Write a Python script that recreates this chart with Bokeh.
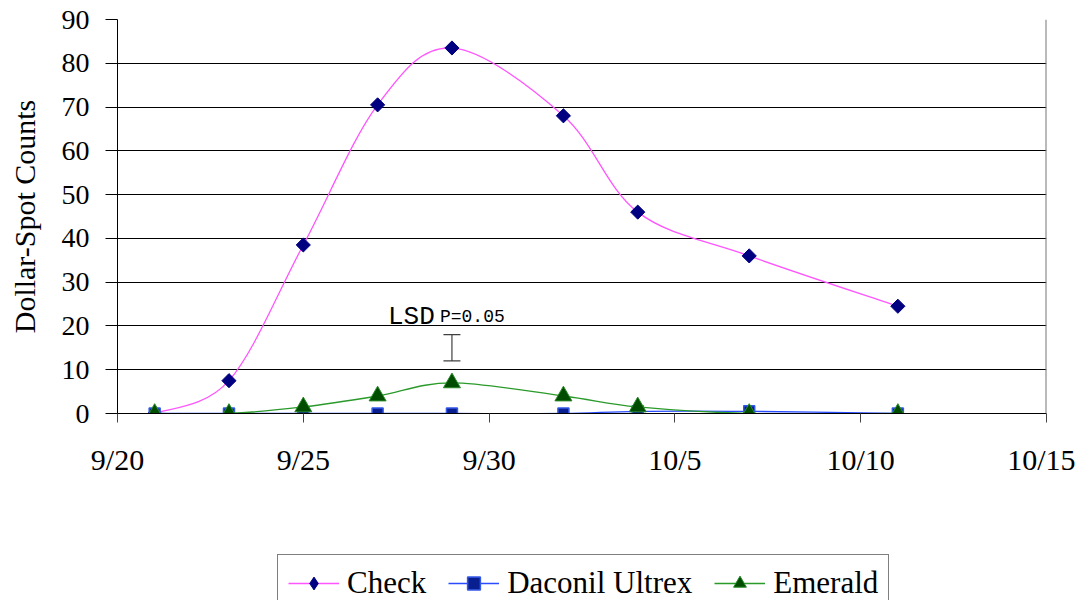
from datetime import date
from bokeh.plotting import figure
from bokeh.layouts import column
from bokeh.models import (Range1d, FixedTicker, Legend, LegendItem, Label, Whisker,
                          ColumnDataSource, Span, TeeHead)
from bokeh.embed import file_html
from bokeh.resources import INLINE

# ---------------- data ----------------
dates = ["9/21", "9/23", "9/25", "9/27", "9/29", "10/2", "10/4", "10/7", "10/11"]
check = [0, 7.5, 38.5, 70.5, 83.5, 68, 46, 36, 24.5]
daconil = [0, 0, 0, 0, 0, 0, 0.5, 0.5, 0]
emerald = [0, 0, 1.5, 4, 7, 4, 1.5, 0, 0]
tick_labels = ["9/20", "9/25", "9/30", "10/5", "10/10", "10/15"]
lsd_date = "9/29"
lsd_low, lsd_high = 12, 18
y_ticks = [0, 10, 20, 30, 40, 50, 60, 70, 80, 90]

ORIGIN = date(2000, 9, 20)


def day(s):
    m, d = s.split("/")
    return (date(2000, int(m), int(d)) - ORIGIN).days


xs = [day(d) for d in dates]
tick_x = [day(t) for t in tick_labels]

SERIF = "Liberation Serif"
MONO = "Liberation Mono"

W = 1075
p = figure(width=W, height=488, output_backend="svg", toolbar_location=None,
           x_range=Range1d(tick_x[0], tick_x[-1]), y_range=Range1d(y_ticks[0], y_ticks[-1]),
           min_border_left=117, min_border_right=W - 1046, min_border_top=19, min_border_bottom=75)
p.outline_line_color = None
p.background_fill_color = "white"
p.border_fill_color = "white"

# axes
p.xgrid.grid_line_color = None
p.ygrid.grid_line_color = "black"
p.ygrid.grid_line_width = 1
p.ygrid.ticker = FixedTicker(ticks=y_ticks)

p.yaxis.ticker = FixedTicker(ticks=y_ticks)
p.yaxis.major_tick_out = 12
p.yaxis.major_tick_in = 0
p.yaxis.minor_tick_line_color = None
p.yaxis.axis_line_color = "black"
p.yaxis.major_tick_line_color = "black"
p.yaxis.major_label_text_font = SERIF
p.yaxis.major_label_text_font_size = "28px"
p.yaxis.major_label_text_color = "black"
p.yaxis.major_label_standoff = 16
p.yaxis.axis_label = "Dollar-Spot Counts"
p.yaxis.axis_label_text_font = SERIF
p.yaxis.axis_label_text_font_size = "30px"
p.yaxis.axis_label_text_font_style = "normal"
p.yaxis.axis_label_text_color = "black"
p.yaxis.axis_label_standoff = 18

p.xaxis.ticker = FixedTicker(ticks=tick_x)
p.xaxis.major_label_overrides = {t: l for t, l in zip(tick_x, tick_labels)}
p.xaxis.major_tick_out = 9
p.xaxis.major_tick_in = 0
p.xaxis.minor_tick_line_color = None
p.xaxis.axis_line_color = "black"
p.xaxis.major_tick_line_color = "#444444"
p.xaxis.major_label_text_font = SERIF
p.xaxis.major_label_text_font_size = "30px"
p.xaxis.major_label_text_color = "black"
p.xaxis.major_label_standoff = 20

p.add_layout(Span(location=tick_x[-1], dimension="height", line_color="#777777", line_width=2))


# smoothed (Excel-like) curve drawn with bezier glyphs
def bez(xv, yv):
    n = len(xv)
    x0, y0, x1, y1, cx0, cy0, cx1, cy1 = [], [], [], [], [], [], [], []
    for i in range(n - 1):
        pi = max(i - 1, 0)
        ni = min(i + 2, n - 1)
        x0.append(xv[i]); y0.append(yv[i])
        x1.append(xv[i + 1]); y1.append(yv[i + 1])
        cx0.append(xv[i] + (xv[i + 1] - xv[pi]) / 6.0)
        cy0.append(yv[i] + (yv[i + 1] - yv[pi]) / 6.0)
        cx1.append(xv[i + 1] - (xv[ni] - xv[i]) / 6.0)
        cy1.append(yv[i + 1] - (yv[ni] - yv[i]) / 6.0)
    return dict(x0=x0, y0=y0, x1=x1, y1=y1, cx0=cx0, cy0=cy0, cx1=cx1, cy1=cy1)


series = [
    ("Check", check, "#ff55ff",
     dict(marker="square", angle=0.785398, size=10, fill_color="#000080", line_color="#000080"),
     dict(marker="diamond", fill_color="#000080", line_color="#000080")),
    ("Daconil Ultrex", daconil, "#2a4cff",
     dict(marker="square", size=11, fill_color="#0a1f8f", line_color="#3358e8", line_width=1.5),
     dict(marker="square", fill_color="#0a1f8f", line_color="#3358e8", line_width=1.5)),
    ("Emerald", emerald, "#2a9a2a",
     dict(marker="triangle", size=17, fill_color="#004d00", line_color="#2a8a2a"),
     dict(marker="triangle", fill_color="#004d00", line_color="#2a8a2a")),
]

# legend-only figure below the chart
p2 = figure(width=W, height=112, output_backend="svg", toolbar_location=None,
            x_axis_location=None, y_axis_location=None,
            x_range=Range1d(0, 1), y_range=Range1d(0, 1),
            min_border_left=0, min_border_right=0, min_border_top=0, min_border_bottom=0)
p2.outline_line_color = None
p2.grid.grid_line_color = None
p2.border_fill_color = "white"

items = []
for name, vals, col, mk, lmk in series:
    p.bezier(source=ColumnDataSource(bez(xs, vals)), x0="x0", y0="y0", x1="x1", y1="y1",
             cx0="cx0", cy0="cy0", cx1="cx1", cy1="cy1", line_color=col, line_width=1.3)
    p.scatter(x=xs, y=vals, **mk)
    # off-range stand-ins so that the legend draws its samples
    leg_line = p2.line(x=[5, 6], y=[5, 6], line_color=col, line_width=1.5)
    leg_mk = p2.scatter(x=[5], y=[5], size=12, **lmk)
    items.append(LegendItem(label=name, renderers=[leg_line, leg_mk]))

# LSD bar
lsd_x = day(lsd_date)
p.add_layout(Whisker(source=ColumnDataSource(dict(base=[lsd_x], lower=[lsd_low], upper=[lsd_high])),
                     base="base", lower="lower", upper="upper", dimension="height",
                     line_color="#404040", line_width=1.2,
                     upper_head=TeeHead(size=17, line_color="#404040", line_width=1.2),
                     lower_head=TeeHead(size=17, line_color="#404040", line_width=1.2)))
p.add_layout(Label(x=lsd_x, y=lsd_high, x_offset=-64, y_offset=18, text="LSD",
                   text_font=MONO, text_font_size="26px", text_color="black",
                   text_baseline="alphabetic"))
p.add_layout(Label(x=lsd_x, y=lsd_high, x_offset=-12, y_offset=18, text="P=0.05",
                   text_font=MONO, text_font_size="18px", text_color="black",
                   text_baseline="alphabetic"))

legend = Legend(items=items, orientation="horizontal", location=(160, -12),
                label_text_font=SERIF, label_text_font_size="31px", label_text_color="black",
                glyph_width=51, glyph_height=32, label_standoff=8, spacing=22, padding=10,
                border_line_color="black", border_line_width=1, background_fill_alpha=1,
                margin=0)
p2.add_layout(legend, "center")

open("out.html", "w").write(file_html(column(p, p2), INLINE))
